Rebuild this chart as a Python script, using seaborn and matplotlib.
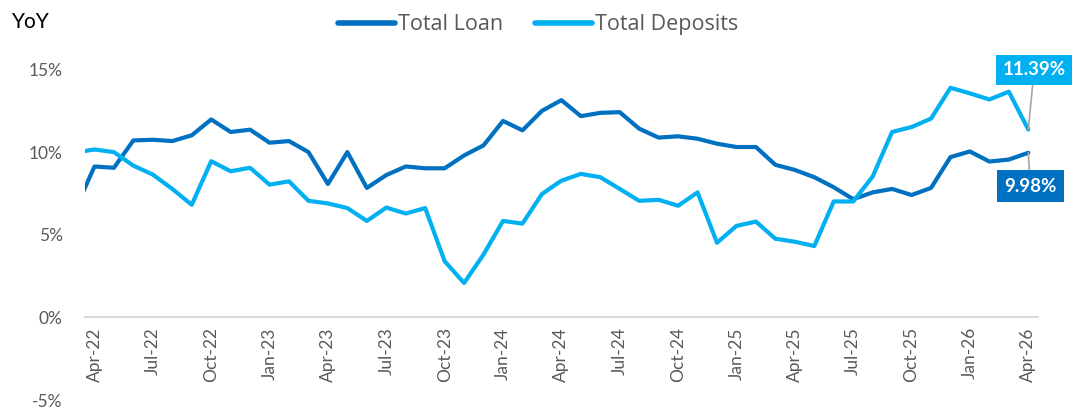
import matplotlib
matplotlib.use('Agg')
import matplotlib.pyplot as plt
import seaborn as sns
import pandas as pd
import numpy as np

# monthly YoY growth, Mar-22 .. Apr-26 (first month sits just left of the axis)
loan = [6.5, 9.15, 9.07, 10.73, 10.77, 10.69, 11.04, 12.0, 11.24, 11.38,
        10.59, 10.69, 10.02, 8.09, 10.02, 7.85, 8.63, 9.15, 9.04, 9.04,
        9.82, 10.43, 11.91, 11.34, 12.52, 13.17, 12.2, 12.4, 12.44, 11.44,
        10.9, 10.98, 10.83, 10.53, 10.33, 10.33, 9.25, 8.94, 8.5, 7.89,
        7.17, 7.58, 7.79, 7.42, 7.85, 9.72, 10.06, 9.45, 9.57, 9.98]
deposits = [10.0, 10.18, 10.02, 9.2, 8.66, 7.79, 6.83, 9.47, 8.86, 9.07,
            8.05, 8.25, 7.07, 6.91, 6.63, 5.85, 6.66, 6.3, 6.63, 3.41,
            2.09, 3.82, 5.85, 5.69, 7.48, 8.29, 8.7, 8.5, 7.79, 7.07,
            7.13, 6.77, 7.58, 4.53, 5.55, 5.81, 4.77, 4.59, 4.33, 7.03,
            7.03, 8.54, 11.24, 11.54, 12.05, 13.92, 13.58, 13.21, 13.68, 11.39]
tick_labels = ['Apr-22', 'Jul-22', 'Oct-22', 'Jan-23', 'Apr-23', 'Jul-23',
               'Oct-23', 'Jan-24', 'Apr-24', 'Jul-24', 'Oct-24', 'Jan-25',
               'Apr-25', 'Jul-25', 'Oct-25', 'Jan-26', 'Apr-26']
series = ['Total Loan', 'Total Deposits']
colors = ['#0070C0', '#00B0F0']

n = len(loan)
df = pd.DataFrame({
    'idx': list(range(n)) * 2,
    'value': loan + deposits,
    'series': [series[0]] * n + [series[1]] * n,
})

sns.set_style('white')
plt.rcParams['font.family'] = ['Lato', 'DejaVu Sans']

fig = plt.figure(figsize=(10.74, 4.09), dpi=100)
ax = fig.add_axes([0.0789, 0.022, 0.8876, 0.807])

sns.lineplot(data=df, x='idx', y='value', hue='series', palette=colors,
             linewidth=3, ax=ax, legend=False)

ax.set_xlim(0.5, 49.5)
ax.set_ylim(-5, 15)
ax.set_xlabel('')
ax.set_ylabel('')

# axis at zero, no other spines
for s in ['top', 'right', 'left']:
    ax.spines[s].set_visible(False)
ax.spines['bottom'].set_position(('data', 0))
ax.spines['bottom'].set_color('#D9D9D9')
ax.spines['bottom'].set_linewidth(1.5)

ax.set_xticks(np.arange(1, n, 3))
ax.set_xticklabels(tick_labels, rotation=90, fontsize=12.5, color='#595959')
ax.set_xticks(np.arange(0.5, n - 1, 3), minor=True)
ax.tick_params(axis='x', which='major', length=0, pad=7)
ax.tick_params(axis='x', which='minor', length=4, width=1.5, color='#D9D9D9',
               direction='out')

ax.set_yticks([-5, 0, 5, 10, 15])
ax.set_yticklabels(['-5%', '0%', '5%', '10%', '15%'], fontsize=12.5, color='#595959')
ax.tick_params(axis='y', length=0, pad=16)

# end-point labels
ax.annotate('11.39%', xy=(n - 1, deposits[-1]), xytext=(49.3, 15.0),
            ha='center', va='center', fontsize=13.5, fontweight='bold', color='white',
            bbox=dict(boxstyle='square,pad=0.35', fc=colors[1], ec='none'),
            arrowprops=dict(arrowstyle='-', color='#A6A6A6', lw=1.2,
                            shrinkA=0, shrinkB=0),
            annotation_clip=False)
ax.annotate('9.98%', xy=(n - 1, loan[-1]), xytext=(49.1, 7.95),
            ha='center', va='center', fontsize=13.5, fontweight='bold', color='white',
            bbox=dict(boxstyle='square,pad=0.4', fc=colors[0], ec='none'),
            arrowprops=dict(arrowstyle='-', color='#A6A6A6', lw=1.2,
                            shrinkA=0, shrinkB=0),
            annotation_clip=False)

handles = [plt.Line2D([], [], color=c, lw=4) for c in colors]
leg = fig.legend(handles, series, loc='center', bbox_to_anchor=(0.501, 0.94),
                 ncol=2, frameon=False, prop={'family': 'Open Sans', 'size': 15.5},
                 handlelength=2.65, handletextpad=0.15, columnspacing=1.45)
for t in leg.get_texts():
    t.set_color('#595959')

fig.text(0.011, 0.945, 'YoY', fontsize=15, color='black', va='center')

fig.savefig('out.png', dpi=100)
